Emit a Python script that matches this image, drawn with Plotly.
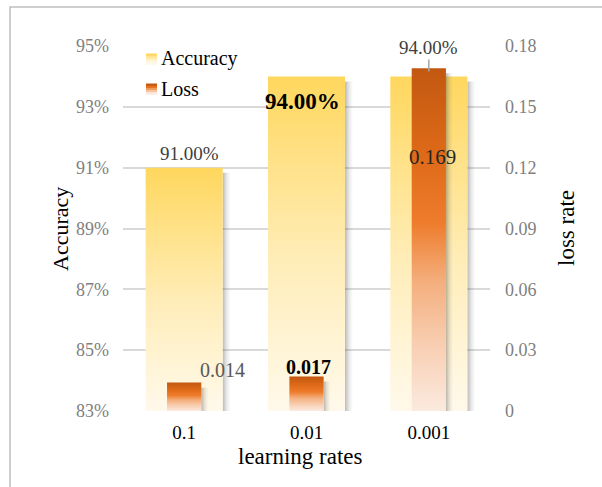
import plotly.graph_objects as go

# ---- data ----
learning_rates = ["0.1", "0.01", "0.001"]
accuracy = [91.0, 94.0, 94.0]          # %
loss = [0.014, 0.017, 0.169]
acc_ticks = [83, 85, 87, 89, 91, 93, 95]
acc_tick_text = ["83%", "85%", "87%", "89%", "91%", "93%", "95%"]
loss_ticks = [0, 0.03, 0.06, 0.09, 0.12, 0.15, 0.18]
loss_tick_text = ["0", "0.03", "0.06", "0.09", "0.12", "0.15", "0.18"]

# ---- geometry / style ----
W, H = 602, 487
L, R, T, B = 123, 112, 46, 76
PW, PH = W - L - R, H - T - B
ACC_MIN, ACC_MAX = 83, 95
LOSS_MAX = 0.18
X_RANGE = [-0.5, 2.5]
ACC_W, LOSS_W = 0.63, 0.28
SERIF = "Liberation Serif"

px_x = (X_RANGE[1] - X_RANGE[0]) / PW      # x units per pixel
px_acc = (ACC_MAX - ACC_MIN) / PH          # % per pixel
px_loss = LOSS_MAX / PH                    # loss per pixel

ACC_SCALE = [[0, "#FFF9EB"], [0.45, "#FFEDB8"], [1, "#FFD75E"]]
LOSS_SCALE = [[0, "#FBEADF"], [0.2, "#F8CDB0"], [0.38, "#F4AE7C"],
              [0.55, "#EE7C2C"], [0.75, "#DE6A18"], [1, "#C25811"]]
SHADOW_SCALE = [[0, "rgba(70,70,70,0.38)"], [0.5, "rgba(90,90,90,0.14)"],
                [1, "rgba(120,120,120,0)"]]


def px2paper_x(p):
    return (p - L) / PW


def px2paper_y(p):
    return (H - B - p) / PH


def rect(x0, x1, y0, y1):
    return [x0, x1, x1, x0, x0], [y0, y0, y1, y1, y0]


fig = go.Figure()

# accuracy bars (left axis) with soft drop shadow
for i, v in enumerate(accuracy):
    xr = i + ACC_W / 2
    sx, sy = rect(xr, xr + 8 * px_x, ACC_MIN, v - 5 * px_acc)
    fig.add_trace(go.Scatter(x=sx, y=sy, fill="toself", mode="lines",
                             line=dict(width=0), hoverinfo="skip", showlegend=False,
                             fillgradient=dict(type="horizontal", colorscale=SHADOW_SCALE)))
    bx, by = rect(i - ACC_W / 2, xr, ACC_MIN, v)
    fig.add_trace(go.Scatter(x=bx, y=by, fill="toself", mode="lines",
                             line=dict(width=0), name="Accuracy", showlegend=False,
                             hovertemplate="Accuracy: %{text}<extra></extra>",
                             text=[f"{v:.2f}%"] * 5,
                             fillgradient=dict(type="vertical", colorscale=ACC_SCALE)))

# loss bars (right axis)
for i, v in enumerate(loss):
    xr = i + LOSS_W / 2
    sx, sy = rect(xr, xr + 7 * px_x, 0, max(v - 5 * px_loss, 0))
    fig.add_trace(go.Scatter(x=sx, y=sy, yaxis="y2", fill="toself", mode="lines",
                             line=dict(width=0), hoverinfo="skip", showlegend=False,
                             fillgradient=dict(type="horizontal", colorscale=SHADOW_SCALE)))
    bx, by = rect(i - LOSS_W / 2, xr, 0, v)
    fig.add_trace(go.Scatter(x=bx, y=by, yaxis="y2", fill="toself", mode="lines",
                             line=dict(width=0), name="Loss", showlegend=False,
                             hovertemplate="Loss: %{text}<extra></extra>",
                             text=[f"{v:.3f}"] * 5,
                             fillgradient=dict(type="vertical", colorscale=LOSS_SCALE)))

# ---- value labels ----
annotations = [
    dict(x=0, y=accuracy[0], yref="y", text=f"{accuracy[0]:.2f}%", showarrow=False,
         xshift=5, yshift=14, font=dict(family=SERIF, size=19, color="#404040")),
    dict(x=1, y=accuracy[1], yref="y", text=f"{accuracy[1]:.2f}%", showarrow=False,
         xshift=-4, yshift=-25, font=dict(family=SERIF, size=23, color="#000000", weight="bold")),
    dict(x=2, y=accuracy[2], yref="y", text=f"{accuracy[2]:.2f}%", showarrow=True,
         ax=0, ay=-29, arrowhead=0, arrowwidth=1.5, arrowcolor="#A6A6A6", standoff=5,
         font=dict(family=SERIF, size=19, color="#404040")),
    dict(x=0, y=loss[0], yref="y2", text=f"{loss[0]:.3f}", showarrow=False,
         xshift=38, yshift=13, font=dict(family=SERIF, size=20, color="#595959")),
    dict(x=1, y=loss[1], yref="y2", text=f"{loss[1]:.3f}", showarrow=False,
         xshift=2, yshift=10, font=dict(family=SERIF, size=20, color="#000000", weight="bold")),
    dict(x=2, y=loss[2], yref="y2", text=f"{loss[2]:.3f}", showarrow=False,
         xshift=4, yshift=-89, font=dict(family=SERIF, size=21, color="#262626")),
]

# axis titles
title_font = dict(family=SERIF, color="#000000")
annotations += [
    dict(xref="paper", yref="paper", x=px2paper_x(60), y=px2paper_y(229), text="Accuracy",
         xanchor="center", yanchor="middle", textangle=-90, showarrow=False,
         font=dict(title_font, size=22)),
    dict(xref="paper", yref="paper", x=px2paper_x(567), y=px2paper_y(228), text="loss rate",
         xanchor="center", yanchor="middle", textangle=-90, showarrow=False,
         font=dict(title_font, size=23)),
    dict(xref="paper", yref="paper", x=px2paper_x(300), y=px2paper_y(456), text="learning rates",
         xanchor="center", yanchor="middle", showarrow=False,
         font=dict(title_font, size=23)),
]

# legend entries
shapes = []
legend_items = [("Accuracy", 59, ["#FFD75E", "#FFE491", "#FFEDB8", "#FFF4D6", "#FFF9EB"]),
                ("Loss", 89, ["#C25811", "#E56F1D", "#F09A5C", "#F6C2A0", "#FBEADF"])]
for label, cy, bands in legend_items:
    top = cy - 5.5
    step = 11 / len(bands)
    for k, c in enumerate(bands):
        shapes.append(dict(type="rect", xref="paper", yref="paper", layer="above",
                           x0=px2paper_x(146), x1=px2paper_x(157),
                           y0=px2paper_y(top + (k + 1) * step + 0.3),
                           y1=px2paper_y(top + k * step),
                           line=dict(width=0), fillcolor=c))
    annotations.append(dict(xref="paper", yref="paper", x=px2paper_x(159), y=px2paper_y(cy),
                            xanchor="left", yanchor="middle", text=label, showarrow=False,
                            font=dict(family=SERIF, size=20, color="#000000")))

# outer chart frame
shapes.append(dict(type="rect", xref="paper", yref="paper", layer="below",
                   x0=px2paper_x(10), x1=px2paper_x(W + 10),
                   y0=px2paper_y(H + 10), y1=px2paper_y(7),
                   line=dict(color="#BFBFBF", width=1.5)))

fig.update_layout(
    width=W, height=H,
    margin=dict(l=L, r=R, t=T, b=B, autoexpand=False),
    paper_bgcolor="white", plot_bgcolor="white",
    showlegend=False,
    annotations=annotations, shapes=shapes,
    xaxis=dict(range=X_RANGE, tickvals=[0, 1, 2], ticktext=learning_rates,
               showgrid=False, zeroline=False, showline=False, ticks="",
               ticklabelstandoff=8,
               tickfont=dict(family=SERIF, size=19, color="#000000"), fixedrange=True),
    yaxis=dict(range=[ACC_MIN, ACC_MAX], tickvals=acc_ticks, ticktext=acc_tick_text,
               showgrid=True, gridcolor="#D9D9D9", gridwidth=1.5, zeroline=False,
               showline=False, ticks="", ticklabelstandoff=13,
               tickfont=dict(family=SERIF, size=18, color="#7F7F7F")),
    yaxis2=dict(range=[0, LOSS_MAX], tickvals=loss_ticks, ticktext=loss_tick_text,
                overlaying="y", side="right", showgrid=False, zeroline=False,
                showline=False, ticks="", ticklabelstandoff=14,
                tickfont=dict(family=SERIF, size=18, color="#7F7F7F")),
)

fig.write_html("out.html")
